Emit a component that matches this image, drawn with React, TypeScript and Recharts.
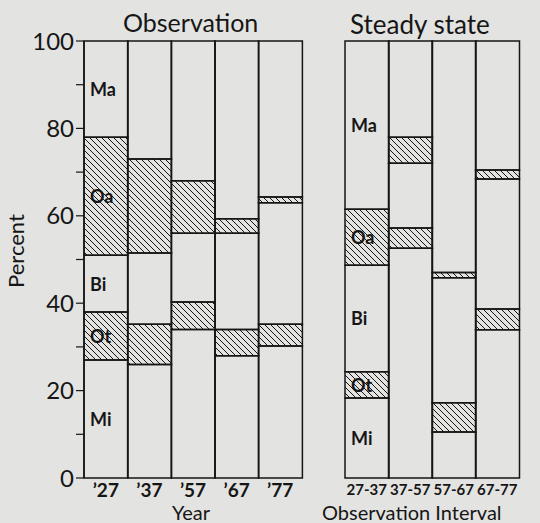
import { BarChart, Bar, XAxis, YAxis, LabelList } from 'recharts';

const years = ['’27', '’37', '’57', '’67', '’77'];
const intervals = ['27-37', '37-57', '57-67', '67-77'];
const layers = ['Mi', 'Ot', 'Bi', 'Oa', 'Ma'];
const hatched = ['Ot', 'Oa'];

// segment heights (percent), bottom to top
const obsMi = [27, 26, 34, 28, 30.2];
const obsOt = [11, 9.2, 6.3, 6, 5];
const obsBi = [13, 16.3, 15.7, 22, 27.8];
const obsOa = [27, 21.5, 12, 3.3, 1.3];
const obsMa = [22, 27, 32, 40.7, 35.7];

const ssMi = [18.3, 52.6, 10.5, 33.9];
const ssOt = [6, 4.6, 6.7, 4.8];
const ssBi = [24.4, 14.8, 28.6, 29.7];
const ssOa = [12.8, 6, 1.2, 2.1];
const ssMa = [38.5, 22, 53, 29.5];

const yTicks = [0, 10, 20, 30, 40, 50, 60, 70, 80, 90, 100];

const obsData = years.map((name, i) => ({
  name,
  Mi: obsMi[i],
  Ot: obsOt[i],
  Bi: obsBi[i],
  Oa: obsOa[i],
  Ma: obsMa[i],
}));

const ssData = intervals.map((name, i) => ({
  name,
  Mi: ssMi[i],
  Ot: ssOt[i],
  Bi: ssBi[i],
  Oa: ssOa[i],
  Ma: ssMa[i],
}));

const FONT = 'Lato, "DejaVu Sans", sans-serif';
const INK = '#161616';
const PAPER = '#e3e3e1';

const firstLabel = (name: string) => (props: any) => {
  if (props.index !== 0) return null;
  return (
    <text
      x={Number(props.x) + 6}
      y={Number(props.y) + Number(props.height) / 2}
      dominantBaseline="central"
      fontFamily={FONT}
      fontSize={18}
      fontWeight={700}
      fill={INK}
    >
      {name}
    </text>
  );
};

function Hatch({ id }: { id: string }) {
  return (
    <defs>
      <pattern id={id} patternUnits="userSpaceOnUse" width="6" height="6">
        <path d="M0,0 L6,6 M-1,5 L1,7 M5,-1 L7,1" stroke={INK} strokeWidth={1} />
      </pattern>
    </defs>
  );
}

const textStyle = (left: number, top: number, size: number): React.CSSProperties => ({
  position: 'absolute',
  left,
  top,
  fontFamily: FONT,
  fontSize: size,
  color: INK,
  whiteSpace: 'nowrap',
  lineHeight: 1,
});

export default function App() {
  return (
    <div
      style={{
        position: 'absolute',
        left: 0,
        top: 0,
        width: 540,
        height: 523,
        background: PAPER,
        overflow: 'hidden',
      }}
    >
      <div style={{ position: 'absolute', left: 0, top: 0 }}>
        <BarChart
          width={540}
          height={523}
          data={obsData}
          margin={{ top: 41, right: 238, bottom: 21, left: 24 }}
          barCategoryGap={0}
          barGap={0}
        >
          <Hatch id="hatchObs" />
          <XAxis
            dataKey="name"
            height={24}
            axisLine={false}
            tickLine={false}
            tickMargin={0}
            tick={{ fill: INK, fontSize: 19, fontFamily: FONT, fontWeight: 700 }}
          />
          <YAxis
            width={60}
            domain={[0, 100]}
            ticks={yTicks}
            interval={0}
            tickSize={8}
            tickMargin={2}
            tickFormatter={(v: number) => (v % 20 === 0 ? String(v) : '')}
            axisLine={{ stroke: INK, strokeWidth: 1.5 }}
            tickLine={{ stroke: INK, strokeWidth: 1.2 }}
            tick={{ fill: INK, fontSize: 24, fontFamily: FONT }}
          />
          {layers.map((key) => (
            <Bar
              key={key}
              dataKey={key}
              stackId="obs"
              fill={hatched.includes(key) ? 'url(#hatchObs)' : 'none'}
              stroke={INK}
              strokeWidth={1.5}
              isAnimationActive={false}
            >
              <LabelList dataKey={key} content={firstLabel(key)} />
            </Bar>
          ))}
        </BarChart>
      </div>

      <div style={{ position: 'absolute', left: 0, top: 0 }}>
        <BarChart
          width={540}
          height={523}
          data={ssData}
          margin={{ top: 41, right: 21, bottom: 21, left: 345 }}
          barCategoryGap={0}
          barGap={0}
        >
          <Hatch id="hatchSs" />
          <XAxis
            dataKey="name"
            height={24}
            axisLine={false}
            tickLine={false}
            tickMargin={0}
            interval={0}
            tick={{ fill: INK, fontSize: 15, fontFamily: FONT, fontWeight: 700 }}
          />
          <YAxis hide domain={[0, 100]} />
          {layers.map((key) => (
            <Bar
              key={key}
              dataKey={key}
              stackId="ss"
              fill={hatched.includes(key) ? 'url(#hatchSs)' : 'none'}
              stroke={INK}
              strokeWidth={1.5}
              isAnimationActive={false}
            >
              <LabelList dataKey={key} content={firstLabel(key)} />
            </Bar>
          ))}
        </BarChart>
      </div>

      <div style={textStyle(123, 10, 25)}>Observation</div>
      <div style={textStyle(350, 11, 26)}>Steady state</div>
      <div style={textStyle(172, 502, 20)}>Year</div>
      <div style={textStyle(322, 502, 20)}>Observation Interval</div>
      <div
        style={{
          ...textStyle(-24, 240, 22),
          transform: 'rotate(-90deg)',
          transformOrigin: 'center',
          width: 80,
          textAlign: 'center',
        }}
      >
        Percent
      </div>
    </div>
  );
}
